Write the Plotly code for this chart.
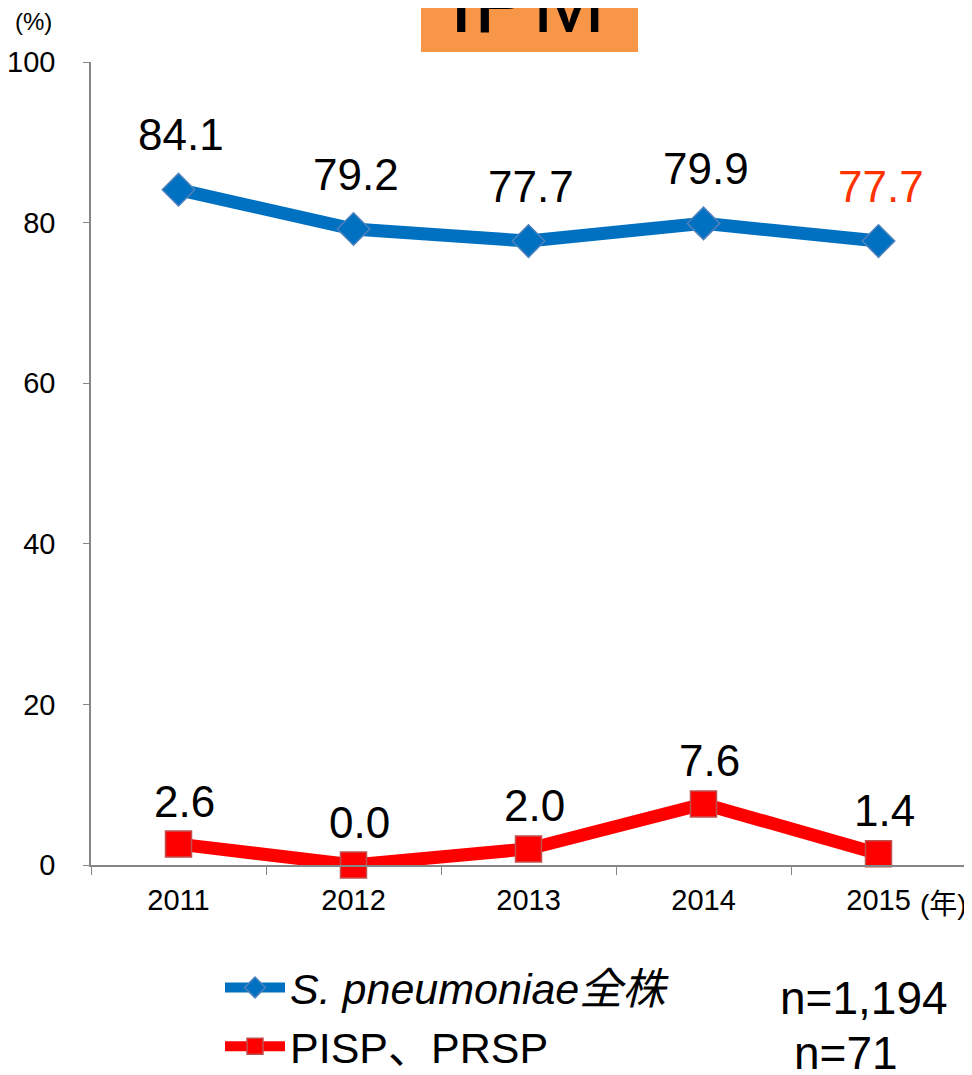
import plotly.graph_objects as go

years = ["2011", "2012", "2013", "2014", "2015"]
all_strains = [84.1, 79.2, 77.7, 79.9, 77.7]
pisp_prsp = [2.6, 0.0, 2.0, 7.6, 1.4]
all_labels = ["84.1", "79.2", "77.7", "79.9", "77.7"]
pisp_labels = ["2.6", "0.0", "2.0", "7.6", "1.4"]
y_ticks = [0, 20, 40, 60, 80, 100]
name_all = "<i>S. pneumoniae全株</i>"
name_pisp = "PISP、PRSP"
n_all = "n=1,194"
n_pisp = "n=71"
title_text = "IPM"

W, H = 972, 1075
OFF = 8  # page body margin
PL, PR, PT, PB = 91, 966, 62, 865   # plot area in page pixels
L, T = PL - OFF, PT - OFF
pw, ph = PR - PL, PB - PT
R, B = W - L - pw, H - T - ph

def px_x(x):
    return (x - PL) / pw

def px_y(y):
    return (PB - y) / ph

FONT = "Liberation Sans, Arial, Noto Sans CJK JP, sans-serif"
BLUE = "#0070C0"
RED = "#FF0000"

fig = go.Figure()
fig.add_trace(go.Scatter(
    x=years, y=all_strains, name=name_all, mode="lines+markers",
    line=dict(color=BLUE, width=13),
    marker=dict(symbol="diamond", size=25, color=BLUE, line=dict(color="#4F81BD", width=1.5)),
    cliponaxis=False,
))
fig.add_trace(go.Scatter(
    x=years, y=pisp_prsp, name=name_pisp, mode="lines+markers",
    line=dict(color=RED, width=13),
    marker=dict(symbol="square", size=26, color=RED, line=dict(color="#C0504D", width=1.5)),
    cliponaxis=False,
))

annotations = []
for i, (v, t) in enumerate(zip(all_strains, all_labels)):
    annotations.append(dict(x=i, y=v, xref="x", yref="y", text=t, showarrow=False,
                            yshift=55, xshift=2,
                            font=dict(size=44, family=FONT,
                                      color="#FF3300" if i == len(years) - 1 else "black")))
for i, (v, t) in enumerate(zip(pisp_prsp, pisp_labels)):
    annotations.append(dict(x=i, y=v, xref="x", yref="y", text=t, showarrow=False,
                            yshift=43, xshift=6,
                            font=dict(size=44, family=FONT, color="black")))

def paper_text(x, y, text, size, **kw):
    d = dict(xref="paper", yref="paper", x=px_x(x), y=px_y(y), text=text, showarrow=False,
             xanchor="center", yanchor="middle",
             font=dict(size=size, family=FONT, color="black"))
    d.update(kw)
    return d

annotations += [
    paper_text(33, 21, "(%)", 24),
    paper_text(943, 904, "(年)", 28),
    paper_text(864, 998, n_all, 46),
    paper_text(846, 1053, n_pisp, 46),
    paper_text(527, 32, title_text, 88, yanchor="bottom", yshift=-21),
]

fig.update_layout(
    width=W, height=H,
    margin=dict(l=L, r=R, t=T, b=B, pad=0, autoexpand=False),
    paper_bgcolor="white", plot_bgcolor="white",
    font=dict(family=FONT, color="black"),
    showlegend=True,
    legend=dict(x=px_x(220), y=px_y(953), xanchor="left", yanchor="top",
                font=dict(size=43, family=FONT, color="black"),
                bgcolor="rgba(0,0,0,0)", tracegroupgap=0, itemwidth=60),
    shapes=[dict(type="rect", xref="paper", yref="paper",
                 x0=px_x(421), x1=px_x(638), y0=px_y(52), y1=px_y(-5),
                 fillcolor="#F79646", line=dict(width=0), layer="below")],
    annotations=annotations,
    xaxis=dict(type="category", range=[-0.5, 4.5], showgrid=False, zeroline=False,
               automargin=False,
               showline=True, linecolor="#868686", linewidth=1.5,
               ticks="outside", tickson="boundaries", ticklen=8, tickcolor="#868686",
               tickfont=dict(size=29, family=FONT, color="black"), ticklabelstandoff=8),
    yaxis=dict(range=[0, 100], tickvals=y_ticks, showgrid=False, zeroline=False,
               automargin=False,
               showline=True, linecolor="#868686", linewidth=1.5,
               ticks="outside", ticklen=6, tickcolor="#868686",
               tickfont=dict(size=29, family=FONT, color="black"), ticklabelstandoff=22),
)

fig.write_html("out.html")
